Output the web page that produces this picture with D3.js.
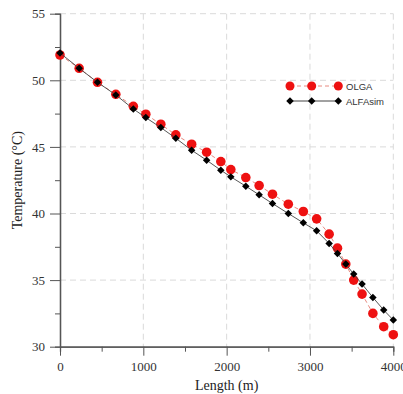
<!DOCTYPE html>
<html>
<head>
<meta charset="utf-8">
<script src="https://cdn.jsdelivr.net/npm/d3@7"></script>
<style>
  body { margin: 0; background: #fff; }
  .axis text { font-family: "Liberation Serif", "Times New Roman", serif; font-size: 13px; fill: #333; }
  .axis path, .axis line { stroke: #555; }
  .grid line { stroke: #dadada; stroke-dasharray: 6,4; }
  .title { font-family: "Liberation Serif", "Times New Roman", serif; font-size: 14px; fill: #222; }
  .legend text { font-family: "Liberation Sans", Arial, sans-serif; font-size: 9.5px; fill: #333; }
</style>
</head>
<body>
<div id="chart"></div>
<script>
var lengths = [0, 230, 450, 670, 880, 1030, 1210, 1390, 1580, 1760, 1930, 2050, 2230, 2390, 2550,
  2740, 2920, 3080, 3230, 3330, 3430, 3525, 3625, 3755, 3885, 4000];
var olga = [51.9, 50.9, 49.85, 48.95, 48.05, 47.45, 46.7, 45.9, 45.2, 44.6, 43.9, 43.3, 42.7, 42.1, 41.45,
  40.7, 40.15, 39.6, 38.45, 37.4, 36.2, 35.0, 33.95, 32.5, 31.5, 30.9];
var alfasim = [52.05, 50.9, 49.85, 48.9, 47.85, 47.2, 46.45, 45.65, 44.75, 44.0, 43.25, 42.75, 42.05, 41.4, 40.75,
  40.0, 39.3, 38.7, 37.75, 37.0, 36.2, 35.45, 34.7, 33.7, 32.75, 32.0];
var xTicks = [0, 1000, 2000, 3000, 4000];
var xMinor = [500, 1500, 2500, 3500];
var yTicks = [30, 35, 40, 45, 50, 55];
var yMinor = [32.5, 37.5, 42.5, 47.5, 52.5];

var margin = { top: 13.7, left: 60, right: 9.7, bottom: 47.3 },
  width = 403 - margin.left - margin.right,
  height = 394 - margin.top - margin.bottom;

var svg = d3.select("#chart").append("svg")
  .attr("width", 403).attr("height", 394)
  .append("g")
  .attr("transform", "translate(" + margin.left + "," + margin.top + ")");

var x = d3.scaleLinear().domain([0, 4000]).range([0, width]);
var y = d3.scaleLinear().domain([30, 55]).range([height, 0]);

// grid
svg.append("g").attr("class", "grid")
  .selectAll("line").data(xTicks.slice(1)).enter().append("line")
  .attr("x1", function(d) { return x(d); }).attr("x2", function(d) { return x(d); })
  .attr("y1", 0).attr("y2", height);
svg.append("g").attr("class", "grid")
  .selectAll("line").data(yTicks.slice(1)).enter().append("line")
  .attr("x1", 0).attr("x2", width)
  .attr("y1", function(d) { return y(d); }).attr("y2", function(d) { return y(d); });

// axes
svg.append("g").attr("class", "axis")
  .attr("transform", "translate(0," + height + ")")
  .call(d3.axisBottom(x).tickValues(xMinor).tickSize(5).tickFormat(""));
svg.append("g").attr("class", "axis")
  .attr("transform", "translate(0," + height + ")")
  .call(d3.axisBottom(x).tickValues(xTicks).tickSize(9).tickSizeOuter(0).tickPadding(6).tickFormat(d3.format("d")));
svg.append("g").attr("class", "axis")
  .call(d3.axisLeft(y).tickValues(yMinor).tickSize(5).tickFormat(""));
svg.append("g").attr("class", "axis")
  .call(d3.axisLeft(y).tickValues(yTicks).tickSize(10).tickSizeOuter(0).tickPadding(5));
svg.selectAll(".axis path").attr("stroke-width", 1.3);

svg.append("text").attr("class", "title")
  .attr("x", width / 2).attr("y", height + 43)
  .attr("text-anchor", "middle").text("Length (m)");
svg.append("text").attr("class", "title")
  .attr("transform", "translate(-38," + (height / 2) + ") rotate(-90)")
  .attr("text-anchor", "middle").text("Temperature (°C)");

var line = d3.line()
  .x(function(d) { return x(d[0]); })
  .y(function(d) { return y(d[1]); });

var olgaData = lengths.map(function(l, i) { return [l, olga[i]]; });
var alfaData = lengths.map(function(l, i) { return [l, alfasim[i]]; });

// square turned 45 degrees
var diamond = d3.symbol().type(d3.symbolSquare).size(28);

// OLGA
svg.append("path").datum(olgaData)
  .attr("fill", "none").attr("stroke", "#e88a80").attr("stroke-width", 1)
  .attr("stroke-dasharray", "4,3").attr("d", line);
svg.selectAll(".olga").data(olgaData).enter().append("circle")
  .attr("class", "olga")
  .attr("cx", function(d) { return x(d[0]); })
  .attr("cy", function(d) { return y(d[1]); })
  .attr("r", 4.8).attr("fill", "#ee1111");

// ALFAsim
svg.append("path").datum(alfaData)
  .attr("fill", "none").attr("stroke", "#444").attr("stroke-width", 0.9)
  .attr("d", line);
svg.selectAll(".alfa").data(alfaData).enter().append("path")
  .attr("class", "alfa")
  .attr("transform", function(d) { return "translate(" + x(d[0]) + "," + y(d[1]) + ") rotate(45)"; })
  .attr("d", diamond).attr("fill", "#000");

// legend
var lg = svg.append("g").attr("class", "legend")
  .attr("transform", "translate(" + (290 - margin.left) + "," + (86 - margin.top) + ")");
lg.append("line").attr("x1", 0).attr("x2", 48).attr("y1", 0).attr("y2", 0)
  .attr("stroke", "#e88a80").attr("stroke-dasharray", "4,3");
lg.selectAll("circle").data([0, 21.7, 48.3]).enter().append("circle")
  .attr("cx", function(d) { return d; }).attr("cy", 0).attr("r", 4.5).attr("fill", "#ee1111");
lg.append("text").attr("x", 56).attr("y", 3.5).text("OLGA");
lg.append("line").attr("x1", 0).attr("x2", 48).attr("y1", 15).attr("y2", 15)
  .attr("stroke", "#444");
lg.selectAll(".ld").data([0, 21.7, 48.3]).enter().append("path").attr("class", "ld")
  .attr("transform", function(d) { return "translate(" + d + ",15) rotate(45)"; })
  .attr("d", diamond).attr("fill", "#000");
lg.append("text").attr("x", 56).attr("y", 18.5).text("ALFAsim");
</script>
</body>
</html>
